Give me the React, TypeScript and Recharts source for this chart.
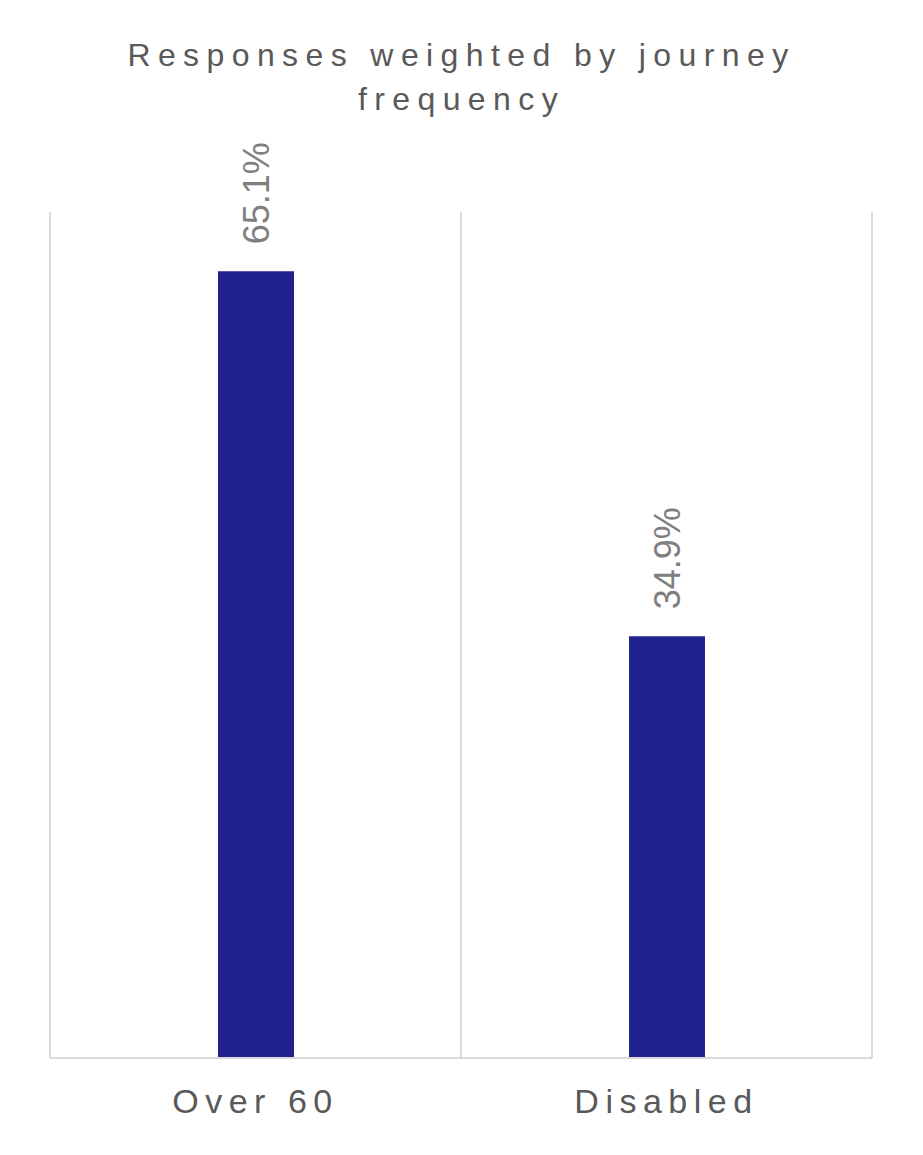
import { Bar, BarChart, CartesianGrid, LabelList, XAxis, YAxis } from "recharts";

const categories = ["Over 60", "Disabled"];
const shares = [65.1, 34.9];
const titleLines = ["Responses weighted by journey", "frequency"];

const data = categories.map((name, i) => ({ name, value: shares[i] }));

const RotatedLabel = (props: any) => {
  const { x, y, width, value } = props;
  const cx = x + width / 2 + 13;
  const cy = y - 27;
  return (
    <text
      x={cx}
      y={cy}
      transform={`rotate(-90 ${cx} ${cy})`}
      fill="#7f7f7f"
      fontSize={36}
      fontFamily="'Liberation Sans', Arial, sans-serif"
      textAnchor="start"
    >
      {`${value.toFixed(1)}%`}
    </text>
  );
};

export default function App() {
  return (
    <div style={{ position: "absolute", left: 0, top: 0, width: 923, height: 1155, background: "#fff" }}>
      <svg width={923} height={130} style={{ position: "absolute", left: 0, top: 0 }}>
        {titleLines.map((t, i) => (
          <text
            key={t}
            x={461.5}
            y={66 + i * 44}
            textAnchor="middle"
            fill="#595959"
            fontSize={32}
            letterSpacing={7.4}
            fontFamily="'Liberation Sans', Arial, sans-serif"
          >
            {t}
          </text>
        ))}
      </svg>
      <div style={{ position: "absolute", left: 0, top: 0 }}>
        <BarChart
          width={923}
          height={1155}
          data={data}
          margin={{ top: 212, right: 51, bottom: 0, left: 50 }}
          barSize={76}
        >
          <CartesianGrid
            horizontal={false}
            stroke="#d9d9d9"
            strokeWidth={2}
            verticalCoordinatesGenerator={({ offset }: any) =>
              [0, 1, 2].map((k) => offset.left + (offset.width * k) / categories.length)
            }
          />
          <XAxis
            dataKey="name"
            height={97}
            axisLine={{ stroke: "#d9d9d9", strokeWidth: 2 }}
            tickLine={false}
            tick={{ fill: "#595959", fontSize: 34, letterSpacing: 6.5, fontFamily: "'Liberation Sans', Arial, sans-serif" }}
            tickMargin={25}
          />
          <YAxis hide domain={[0, 70]} />
          <Bar dataKey="value" fill="#212190" isAnimationActive={false}>
            <LabelList dataKey="value" content={RotatedLabel} />
          </Bar>
        </BarChart>
      </div>
    </div>
  );
}
